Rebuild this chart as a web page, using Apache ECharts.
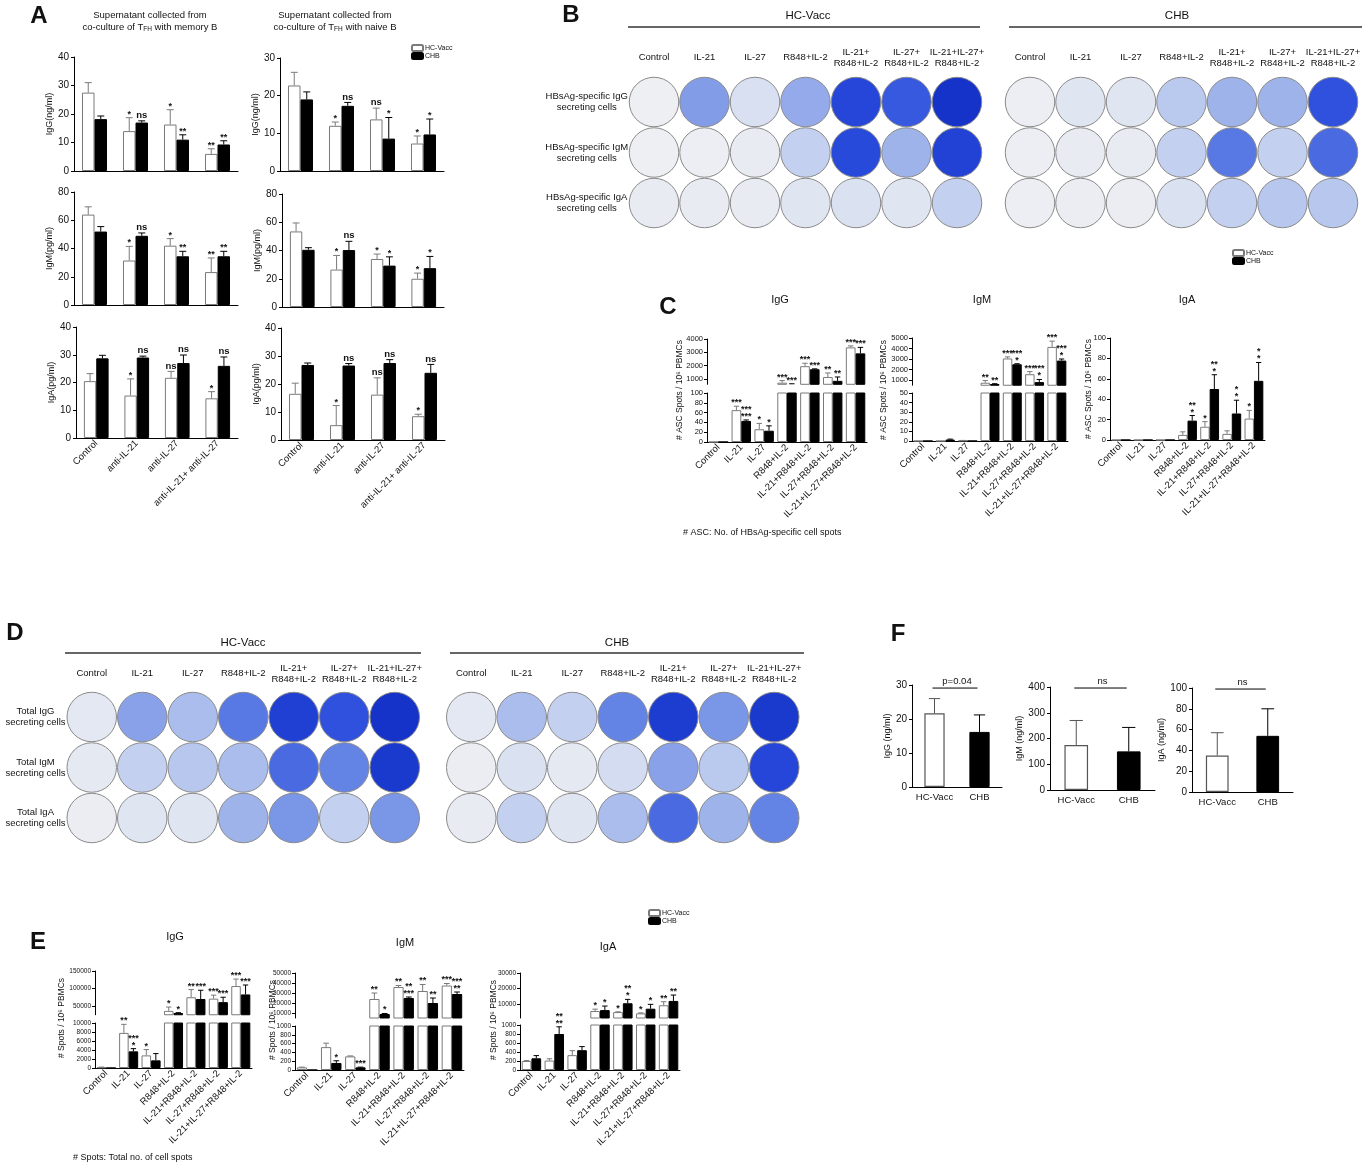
<!DOCTYPE html>
<html>
<head>
<meta charset="utf-8">
<script src="https://cdn.jsdelivr.net/npm/echarts@6/dist/echarts.min.js"></script>
<style>
  html, body { margin: 0; padding: 0; background: #fff; }
  #main { width: 1366px; height: 1167px; }
</style>
</head>
<body>
<div id="main"></div>
<script>
const FONT = 'Arial, "Liberation Sans", Helvetica, sans-serif';

// ---------- Panel A: supernatant Ig, mean and mean+SEM ----------
const aGroups = ['Control', 'anti-IL-21', 'anti-IL-27', 'anti-IL-21+ anti-IL-27'];
const aIgGMemHC = [27.5, 14.0, 16.3, 6.0];
const aIgGMemHCTop = [31.0, 18.7, 21.5, 7.8];
const aIgGMemCHB = [18.2, 17.0, 11.0, 9.3];
const aIgGMemCHBTop = [19.3, 17.6, 12.7, 10.6];
const aIgGNaiHC = [22.7, 12.0, 13.7, 7.3];
const aIgGNaiHCTop = [26.2, 13.0, 16.7, 9.3];
const aIgGNaiCHB = [19.0, 17.3, 8.6, 9.7];
const aIgGNaiCHBTop = [21.0, 18.2, 14.2, 13.8];
const aIgMMemHC = [64.0, 31.5, 42.0, 23.3];
const aIgMMemHCTop = [69.5, 41.5, 47.0, 33.3];
const aIgMMemCHB = [52.0, 49.0, 34.5, 34.5];
const aIgMMemCHBTop = [55.5, 51.0, 38.0, 38.0];
const aIgMNaiHC = [53.5, 26.5, 34.0, 20.0];
const aIgMNaiHCTop = [59.5, 36.5, 37.5, 24.0];
const aIgMNaiCHB = [40.5, 40.3, 29.3, 27.5];
const aIgMNaiCHBTop = [42.0, 46.5, 35.5, 35.8];
const aIgAMemHC = [20.5, 15.3, 21.7, 14.3];
const aIgAMemHCTop = [23.2, 21.3, 24.0, 16.7];
const aIgAMemCHB = [28.7, 29.0, 27.0, 26.0];
const aIgAMemCHBTop = [29.8, 29.5, 29.9, 29.2];
const aIgANaiHC = [16.5, 5.3, 16.2, 8.5];
const aIgANaiHCTop = [20.3, 12.3, 22.2, 9.2];
const aIgANaiCHB = [26.8, 26.6, 27.5, 24.0];
const aIgANaiCHBTop = [27.5, 27.3, 28.7, 27.0];
const aStarMemHC = ['', '*', '*', '**'];
const aStarMemCHB = ['', 'ns', '**', '**'];
const aStarIgGNaiHC = ['', '*', 'ns', '*'];
const aStarIgGNaiCHB = ['', 'ns', '*', '*'];
const aStarIgMNaiHC = ['', '*', '*', '*'];
const aStarIgMNaiCHB = ['', 'ns', '*', '*'];
const aStarIgAHC = ['', '*', 'ns', '*'];
const aStarIgACHB = ['', 'ns', 'ns', 'ns'];

// ---------- Panels B and D: ELISpot wells (0 = blank, 1 = fully stained) ----------
const wellCols = ['Control', 'IL-21', 'IL-27', 'R848+IL-2', 'IL-21+\nR848+IL-2', 'IL-27+\nR848+IL-2', 'IL-21+IL-27+\nR848+IL-2'];
const bRows = ['HBsAg-specific IgG\nsecreting cells', 'HBsAg-specific IgM\nsecreting cells', 'HBsAg-specific IgA\nsecreting cells'];
const dRows = ['Total IgG\nsecreting cells', 'Total IgM\nsecreting cells', 'Total IgA\nsecreting cells'];
const bHC = [
  [0.0, 0.5, 0.2, 0.45, 0.85, 0.75, 1.0],
  [0.0, 0.02, 0.05, 0.28, 0.82, 0.42, 0.88],
  [0.05, 0.05, 0.05, 0.13, 0.18, 0.13, 0.28]
];
const bCHB = [
  [0.02, 0.13, 0.13, 0.32, 0.42, 0.42, 0.78],
  [0.02, 0.05, 0.05, 0.28, 0.62, 0.28, 0.68],
  [0.02, 0.03, 0.03, 0.18, 0.28, 0.33, 0.33]
];
const dHC = [
  [0.1, 0.48, 0.38, 0.62, 0.9, 0.78, 1.0],
  [0.08, 0.28, 0.33, 0.38, 0.68, 0.58, 0.95],
  [0.03, 0.13, 0.13, 0.42, 0.52, 0.28, 0.52]
];
const dCHB = [
  [0.1, 0.38, 0.28, 0.58, 0.92, 0.52, 0.95],
  [0.03, 0.18, 0.08, 0.22, 0.48, 0.32, 0.85],
  [0.05, 0.28, 0.13, 0.38, 0.68, 0.42, 0.58]
];

// ---------- Panels C and E: spots per 10^6 PBMCs ----------
const stimCats = ['Control', 'IL-21', 'IL-27', 'R848+IL-2', 'IL-21+R848+IL-2', 'IL-27+R848+IL-2', 'IL-21+IL-27+R848+IL-2'];
const cIgGHC = [0, 65, 26, 720, 1960, 1150, 3370];
const cIgGHCTop = [0, 73, 38, 880, 2180, 1450, 3480];
const cIgGCHB = [0, 43, 23, 620, 1730, 860, 2920];
const cIgGCHBTop = [0, 45, 33, 640, 1760, 1150, 3370];
const cIgMHC = [0, 0, 0.5, 740, 3050, 1550, 4150];
const cIgMHCTop = [0, 0, 0.6, 950, 3200, 1800, 4700];
const cIgMCHB = [0, 1.5, 0, 620, 2500, 800, 2850];
const cIgMCHBTop = [0, 2, 0, 650, 2550, 1050, 3000];
const cIgAHC = [0, 0, 0, 5, 13, 6, 21];
const cIgAHCTop = [0, 0, 0, 8, 18, 9, 29];
const cIgACHB = [0, 0, 0, 19, 50, 26, 58];
const cIgACHBTop = [0, 0, 0, 24, 64, 39, 76];
const cStarIgGHC = ['', '***', '*', '***', '***', '**', '***'];
const cStarIgGCHB = ['', '***\n***', '*', '***', '***', '**', '***'];
const cStarIgMHC = ['', '', '', '**', '***', '***', '***'];
const cStarIgMCHB = ['', '', '', '**', '***\n*', '***\n*', '***\n*'];
const cStarIgAHC = ['', '', '', '', '*', '', '*'];
const cStarIgACHB = ['', '', '', '**\n*', '**\n*', '*\n*', '*\n*'];

const eIgGHC = [150, 7800, 2800, 36000, 75000, 71000, 107000];
const eIgGHCTop = [200, 9700, 4100, 47000, 97000, 81000, 127000];
const eIgGCHB = [0, 3700, 1700, 30000, 70000, 61000, 83000];
const eIgGCHBTop = [0, 4300, 3200, 31000, 95000, 75000, 110000];
const eIgMHC = [60, 520, 310, 24000, 36000, 32000, 37500];
const eIgMHCTop = [65, 610, 320, 30000, 37500, 38500, 39500];
const eIgMCHB = [0, 160, 60, 9000, 25000, 20000, 29000];
const eIgMCHBTop = [0, 210, 65, 9500, 26000, 25000, 31000];
const eIgAHC = [200, 210, 330, 5500, 4800, 4000, 9200];
const eIgAHCTop = [210, 250, 430, 6700, 5000, 4300, 11500];
const eIgACHB = [260, 800, 440, 6100, 10500, 7000, 12000];
const eIgACHBTop = [320, 960, 520, 8700, 13000, 9800, 15800];
const eStarIgGHC = ['', '**', '*', '*', '**', '***', '***'];
const eStarIgGCHB = ['', '***\n*', '', '*', '***', '***', '***'];
const eStarIgMHC = ['', '', '', '**', '**', '**', '***'];
const eStarIgMCHB = ['', '*', '***', '*', '**\n***', '**', '***\n**'];
const eStarIgAHC = ['', '', '', '*', '*', '*', '**'];
const eStarIgACHB = ['', '**\n**', '', '*', '**\n*', '*', '**'];

// ---------- Panel F: serum Ig ----------
const fGroups = ['HC-Vacc', 'CHB'];
const fIgG = [21.7, 16.2];
const fIgGTop = [26.0, 21.2];
const fIgM = [175, 150];
const fIgMTop = [270, 243];
const fIgA = [35, 54];
const fIgATop = [57, 80];

// ---------------------------------------------------------------
const grids = [], xAxes = [], yAxes = [], series = [], wellSeries = [];
const HC_EDGE = '#7a7a7a';

function errSeries(gi, vals, tops, stars, side, frac, color) {
  return {
    type: 'custom', xAxisIndex: gi, yAxisIndex: gi, clip: false, silent: true, z: 5,
    data: vals.map((v, i) => [i, v, tops[i]]),
    encode: { x: 0, y: [1, 2] },
    renderItem(params, api) {
      const cs = params.coordSys;
      const i = params.dataIndex;
      const band = api.size([1, 0])[0];
      const barW = side === 0 ? band * frac : band * frac / 2;
      const p0 = api.coord([i, api.value(1)]);
      const p1 = api.coord([i, api.value(2)]);
      const x = p0[0] + side * barW / 2;
      const yTop = cs.y, yBot = cs.y + cs.height;
      const cap = Math.max(2.5, barW * 0.28);
      const kids = [];
      if (api.value(2) > api.value(1)) {
        const ya = Math.min(p0[1], yBot), yb = Math.max(p1[1], yTop);
        if (ya > yb) {
          kids.push({ type: 'line', shape: { x1: x, y1: ya, x2: x, y2: yb }, style: { stroke: color, lineWidth: 1 } });
        }
        if (p1[1] >= yTop - 0.5 && p1[1] < yBot) {
          kids.push({ type: 'line', shape: { x1: x - cap, y1: p1[1], x2: x + cap, y2: p1[1] }, style: { stroke: color, lineWidth: 1 } });
        }
      }
      const s = stars ? stars[i] : '';
      // the mark goes into whichever axis segment holds the tip of the error bar
      if (s && p1[1] >= yTop - 0.5 && p1[1] < yBot) {
        const isNs = s === 'ns';
        kids.push({
          type: 'text', x: x, y: p1[1] - (isNs ? 2 : 0),
          style: {
            text: s, fill: '#111', fontFamily: FONT, fontSize: isNs ? 9.5 : 9, fontWeight: 'bold',
            lineHeight: 7, align: 'center', verticalAlign: 'bottom', textAlign: 'center', textVerticalAlign: 'bottom'
          }
        });
      }
      return { type: 'group', children: kids };
    }
  };
}

function addBars(box, cats, axis, d, o) {
  const gi = grids.length;
  grids.push({ left: box[0], top: box[1], width: box[2] - box[0], height: box[3] - box[1], outerBoundsMode: 'none' });
  xAxes.push({
    type: 'category', gridIndex: gi, data: cats,
    axisLine: { show: o.line !== false, lineStyle: { color: '#000', width: 1 } },
    axisTick: { show: false },
    axisLabel: { show: !!o.labels, interval: 0, rotate: 45, fontSize: o.xfs || 9.5, color: '#111', fontFamily: FONT, margin: 4 }
  });
  const ya = {
    type: 'value', gridIndex: gi, min: axis.min, max: axis.max,
    axisLine: { show: true, lineStyle: { color: '#000', width: 1 } },
    axisTick: { show: true, length: 3, lineStyle: { color: '#000' } },
    splitLine: { show: false },
    axisLabel: { fontSize: o.fs || 9, color: '#111', fontFamily: FONT, margin: o.lm || 5, formatter: v => String(v) }
  };
  if (axis.ticks) {
    ya.axisLabel.customValues = axis.ticks;
    ya.axisTick.customValues = axis.ticks;
  } else {
    ya.interval = axis.interval;
  }
  if (o.name) {
    Object.assign(ya, { name: o.name, nameLocation: 'middle', nameGap: o.nameGap, nameTextStyle: { fontSize: 9, fontFamily: FONT, color: '#111' } });
  }
  yAxes.push(ya);
  const gap = o.gap;
  const frac = 1 - parseFloat(gap) / 100;
  series.push({
    type: 'bar', name: 'HC-Vacc', xAxisIndex: gi, yAxisIndex: gi, data: d.hc, barGap: '0%', barCategoryGap: gap,
    clip: true, silent: true, itemStyle: { color: '#fff', borderColor: HC_EDGE, borderWidth: 1 }
  });
  series.push({
    type: 'bar', name: 'CHB', xAxisIndex: gi, yAxisIndex: gi, data: d.chb, barGap: '0%', barCategoryGap: gap,
    clip: true, silent: true, itemStyle: { color: '#000', borderColor: '#000', borderWidth: 1 }
  });
  series.push(errSeries(gi, d.hc, d.hcTop, d.hcStar, -1, frac, HC_EDGE));
  series.push(errSeries(gi, d.chb, d.chbTop, d.chbStar, 1, frac, '#000'));
}

function addSingle(box, vals, tops, axis, name, nameGap, bracketY, bracketLabel) {
  const gi = grids.length;
  grids.push({ left: box[0], top: box[1], width: box[2] - box[0], height: box[3] - box[1], outerBoundsMode: 'none' });
  xAxes.push({
    type: 'category', gridIndex: gi, data: fGroups,
    axisLine: { lineStyle: { color: '#000', width: 1 } }, axisTick: { show: false },
    axisLabel: { interval: 0, fontSize: 9.5, color: '#111', fontFamily: FONT, margin: 5 }
  });
  yAxes.push({
    type: 'value', gridIndex: gi, min: axis.min, max: axis.max, interval: axis.interval,
    axisLine: { show: true, lineStyle: { color: '#000', width: 1 } },
    axisTick: { show: true, length: 3, lineStyle: { color: '#000' } },
    splitLine: { show: false },
    axisLabel: { fontSize: 10, color: '#111', fontFamily: FONT, margin: 5 },
    name: name, nameLocation: 'middle', nameGap: nameGap,
    nameTextStyle: { fontSize: 9, fontFamily: FONT, color: '#111' }
  });
  series.push({
    type: 'bar', xAxisIndex: gi, yAxisIndex: gi, barCategoryGap: '55%', clip: true, silent: true,
    data: [
      { value: vals[0], itemStyle: { color: '#fff', borderColor: '#555', borderWidth: 1.2 } },
      { value: vals[1], itemStyle: { color: '#000', borderColor: '#000', borderWidth: 1 } }
    ]
  });
  series.push(errSeries(gi, [vals[0]], [tops[0]], null, 0, 0.45, '#555'));
  series.push(errSeries(gi, [null, vals[1]], [null, tops[1]], null, 0, 0.45, '#000'));
  series.push({
    type: 'custom', xAxisIndex: gi, yAxisIndex: gi, clip: false, silent: true,
    data: [[0, bracketY]], encode: { x: 0, y: 1 },
    renderItem(params, api) {
      const a = api.coord([0, api.value(1)]);
      const b = api.coord([1, api.value(1)]);
      return {
        type: 'group', children: [
          { type: 'line', shape: { x1: a[0] - 2, y1: a[1], x2: b[0] - 2, y2: b[1] }, style: { stroke: '#000', lineWidth: 1 } },
          {
            type: 'text', x: (a[0] + b[0]) / 2, y: a[1] - 2,
            style: { text: bracketLabel, fill: '#111', fontFamily: FONT, fontSize: 9.5, align: 'center', verticalAlign: 'bottom', textAlign: 'center', textVerticalAlign: 'bottom' }
          }
        ]
      };
    }
  });
}

const WELL = 50.5;
function addWells(left, top, rows, vals, showRows, rowMargin, colMargin) {
  const gi = grids.length;
  grids.push({ left: left, top: top, width: 7 * WELL, height: 3 * WELL, outerBoundsMode: 'none' });
  xAxes.push({
    type: 'category', gridIndex: gi, position: 'top', data: wellCols,
    axisLine: { show: false }, axisTick: { show: false },
    axisLabel: { interval: 0, fontSize: 9.5, color: '#111', fontFamily: FONT, margin: colMargin, lineHeight: 11, verticalAlign: 'middle' }
  });
  yAxes.push({
    type: 'category', gridIndex: gi, inverse: true, data: rows,
    axisLine: { show: false }, axisTick: { show: false }, splitLine: { show: false },
    axisLabel: { show: showRows, interval: 0, align: 'center', margin: rowMargin, fontSize: 9.5, color: '#111', fontFamily: FONT, lineHeight: 11 }
  });
  const data = [];
  vals.forEach((row, r) => row.forEach((v, c) => data.push([c, r, v])));
  wellSeries.push(series.length);
  series.push({
    type: 'scatter', xAxisIndex: gi, yAxisIndex: gi, symbol: 'circle', symbolSize: WELL - 1, silent: true,
    data: data, itemStyle: { borderColor: '#8a8a8a', borderWidth: 1, opacity: 1 }
  });
}

// ----- Panel A -----
const aGap = '39%';
addBars([74, 57, 238, 171], aGroups, { min: 0, max: 40, interval: 10 },
  { hc: aIgGMemHC, hcTop: aIgGMemHCTop, chb: aIgGMemCHB, chbTop: aIgGMemCHBTop, hcStar: aStarMemHC, chbStar: aStarMemCHB },
  { gap: aGap, fs: 10, name: 'IgG(ng/ml)', nameGap: 15 });
addBars([280, 58, 444, 171], aGroups, { min: 0, max: 30, interval: 10 },
  { hc: aIgGNaiHC, hcTop: aIgGNaiHCTop, chb: aIgGNaiCHB, chbTop: aIgGNaiCHBTop, hcStar: aStarIgGNaiHC, chbStar: aStarIgGNaiCHB },
  { gap: aGap, fs: 10, name: 'IgG(ng/ml)', nameGap: 15 });
addBars([74, 192, 238, 305], aGroups, { min: 0, max: 80, interval: 20 },
  { hc: aIgMMemHC, hcTop: aIgMMemHCTop, chb: aIgMMemCHB, chbTop: aIgMMemCHBTop, hcStar: aStarMemHC, chbStar: aStarMemCHB },
  { gap: aGap, fs: 10, name: 'IgM(pg/ml)', nameGap: 15 });
addBars([282, 194, 444, 307], aGroups, { min: 0, max: 80, interval: 20 },
  { hc: aIgMNaiHC, hcTop: aIgMNaiHCTop, chb: aIgMNaiCHB, chbTop: aIgMNaiCHBTop, hcStar: aStarIgMNaiHC, chbStar: aStarIgMNaiCHB },
  { gap: aGap, fs: 10, name: 'IgM(pg/ml)', nameGap: 15 });
addBars([76, 327, 238, 438], aGroups, { min: 0, max: 40, interval: 10 },
  { hc: aIgAMemHC, hcTop: aIgAMemHCTop, chb: aIgAMemCHB, chbTop: aIgAMemCHBTop, hcStar: aStarIgAHC, chbStar: aStarIgACHB },
  { gap: aGap, fs: 10, labels: true, xfs: 9.5, name: 'IgA(pg/ml)', nameGap: 15 });
addBars([281, 328, 445, 440], aGroups, { min: 0, max: 40, interval: 10 },
  { hc: aIgANaiHC, hcTop: aIgANaiHCTop, chb: aIgANaiCHB, chbTop: aIgANaiCHBTop, hcStar: aStarIgAHC, chbStar: aStarIgACHB },
  { gap: aGap, fs: 10, labels: true, xfs: 9.5, name: 'IgA(pg/ml)', nameGap: 15 });

// ----- Panel B / D wells -----
addWells(628.75, 76.75, bRows, bHC, true, 42, 19);
addWells(1004.75, 76.75, bRows, bCHB, false, 0, 19);
addWells(66.5, 691.75, dRows, dHC, true, 31, 18);
addWells(446, 691.75, dRows, dCHB, false, 0, 18);

// ----- Panel C (broken axes for IgG / IgM) -----
const cGap = '15%';
const cIgG = { hc: cIgGHC, hcTop: cIgGHCTop, chb: cIgGCHB, chbTop: cIgGCHBTop, hcStar: cStarIgGHC, chbStar: cStarIgGCHB };
addBars([707, 339, 867, 384.3], stimCats, { min: 600, max: 4000, ticks: [1000, 2000, 3000, 4000] }, cIgG, { gap: cGap, fs: 7.5, lm: 4, line: false });
addBars([707, 393, 867, 442], stimCats, { min: 0, max: 100, interval: 20 }, cIgG, { gap: cGap, fs: 7.5, lm: 4, labels: true });
const cIgM = { hc: cIgMHC, hcTop: cIgMHCTop, chb: cIgMCHB, chbTop: cIgMCHBTop, hcStar: cStarIgMHC, chbStar: cStarIgMCHB };
addBars([912, 338, 1068, 385.25], stimCats, { min: 500, max: 5000, ticks: [1000, 2000, 3000, 4000, 5000] }, cIgM, { gap: cGap, fs: 7.5, lm: 4, line: false });
addBars([912, 393, 1068, 441], stimCats, { min: 0, max: 50, interval: 10 }, cIgM, { gap: cGap, fs: 7.5, lm: 4, labels: true });
addBars([1110, 338, 1265, 440], stimCats, { min: 0, max: 100, interval: 20 },
  { hc: cIgAHC, hcTop: cIgAHCTop, chb: cIgACHB, chbTop: cIgACHBTop, hcStar: cStarIgAHC, chbStar: cStarIgACHB },
  { gap: cGap, fs: 7.5, lm: 4, labels: true });

// ----- Panel E (broken axes) -----
const eIgG = { hc: eIgGHC, hcTop: eIgGHCTop, chb: eIgGCHB, chbTop: eIgGCHBTop, hcStar: eStarIgGHC, chbStar: eStarIgGCHB };
addBars([95, 971, 252, 1014.75], stimCats, { min: 25000, max: 150000, ticks: [50000, 100000, 150000] }, eIgG, { gap: cGap, fs: 6.5, lm: 4, line: false });
addBars([95, 1023, 252, 1068], stimCats, { min: 0, max: 10000, interval: 2000 }, eIgG, { gap: cGap, fs: 6.5, lm: 4, labels: true });
const eIgM = { hc: eIgMHC, hcTop: eIgMHCTop, chb: eIgMCHB, chbTop: eIgMCHBTop, hcStar: eStarIgMHC, chbStar: eStarIgMCHB };
addBars([295, 973, 464, 1018], stimCats, { min: 5000, max: 50000, ticks: [10000, 20000, 30000, 40000, 50000] }, eIgM, { gap: cGap, fs: 6.5, lm: 4, line: false });
addBars([295, 1026, 464, 1070], stimCats, { min: 0, max: 1000, interval: 200 }, eIgM, { gap: cGap, fs: 6.5, lm: 4, labels: true });
const eIgA = { hc: eIgAHC, hcTop: eIgAHCTop, chb: eIgACHB, chbTop: eIgACHBTop, hcStar: eStarIgAHC, chbStar: eStarIgACHB };
addBars([520, 973, 680, 1018], stimCats, { min: 1000, max: 30000, ticks: [10000, 20000, 30000] }, eIgA, { gap: cGap, fs: 6.5, lm: 4, line: false });
addBars([520, 1025, 680, 1070], stimCats, { min: 0, max: 1000, interval: 200 }, eIgA, { gap: cGap, fs: 6.5, lm: 4, labels: true });

// ----- Panel F -----
addSingle([912, 685, 1002, 787], fIgG, fIgGTop, { min: 0, max: 30, interval: 10 }, 'IgG (ng/ml)', 17, 29.1, 'p=0.04');
addSingle([1050, 687, 1155, 790], fIgM, fIgMTop, { min: 0, max: 400, interval: 100 }, 'IgM (ng/ml)', 22, 396, 'ns');
addSingle([1192, 688, 1293, 792], fIgA, fIgATop, { min: 0, max: 100, interval: 20 }, 'IgA (ng/ml)', 19, 99, 'ns');

// ----- free text -----
function txt(x, y, text, o) {
  o = o || {};
  const align = o.align || 'center', va = o.va || 'middle';
  return {
    type: 'text', x: x, y: y, rotation: o.rot || 0, silent: true,
    style: {
      text: text, fill: '#111', fontSize: o.fs || 10, fontWeight: o.fw || 'normal', fontFamily: FONT,
      align: align, verticalAlign: va, textAlign: align, textVerticalAlign: va, rich: o.rich
    }
  };
}
function hline(x1, x2, y) {
  return { type: 'line', silent: true, shape: { x1: x1, y1: y, x2: x2, y2: y }, style: { stroke: '#333', lineWidth: 1.5 } };
}
const subRich = { s: { fontSize: 6.5, fontFamily: FONT, fill: '#111', verticalAlign: 'bottom', padding: [4, 0, 0, 0] } };
const ROT = Math.PI / 2;
const spotsName = '# ASC Spots / 10\u2076 PBMCs';
const totalName = '# Spots / 10\u2076 PBMCs';
const texts = [
  txt(39, 16, 'A', { fs: 24, fw: 'bold' }),
  txt(571, 15, 'B', { fs: 24, fw: 'bold' }),
  txt(668, 307, 'C', { fs: 24, fw: 'bold' }),
  txt(15, 633, 'D', { fs: 24, fw: 'bold' }),
  txt(38, 942, 'E', { fs: 24, fw: 'bold' }),
  txt(898, 634, 'F', { fs: 24, fw: 'bold' }),
  txt(150, 15, 'Supernatant collected from', { fs: 9.5 }),
  txt(150, 27, 'co-culture of T{s|FH} with memory B', { fs: 9.5, rich: subRich }),
  txt(335, 15, 'Supernatant collected from', { fs: 9.5 }),
  txt(335, 27, 'co-culture of T{s|FH} with naive B', { fs: 9.5, rich: subRich }),
  txt(808, 16, 'HC-Vacc', { fs: 11.5 }),
  txt(1177, 16, 'CHB', { fs: 11.5 }),
  txt(243, 643, 'HC-Vacc', { fs: 11.5 }),
  txt(617, 643, 'CHB', { fs: 11.5 }),
  txt(780, 300, 'IgG', { fs: 11 }),
  txt(982, 300, 'IgM', { fs: 11 }),
  txt(1187, 300, 'IgA', { fs: 11 }),
  txt(175, 937, 'IgG', { fs: 11 }),
  txt(405, 943, 'IgM', { fs: 11 }),
  txt(608, 947, 'IgA', { fs: 11 }),
  txt(680, 390, spotsName, { fs: 8.5, rot: ROT }),
  txt(884, 390, spotsName, { fs: 8.5, rot: ROT }),
  txt(1089, 389, spotsName, { fs: 8.5, rot: ROT }),
  txt(62, 1018, totalName, { fs: 8.5, rot: ROT }),
  txt(273, 1020, totalName, { fs: 8.5, rot: ROT }),
  txt(494, 1020, totalName, { fs: 8.5, rot: ROT }),
  txt(683, 533, '# ASC: No. of HBsAg-specific cell spots', { fs: 9, align: 'left' }),
  txt(73, 1158, '# Spots: Total no. of cell spots', { fs: 9, align: 'left' }),
  hline(628, 980, 27),
  hline(1009, 1362, 27),
  hline(65, 421, 653),
  hline(450, 804, 653)
];

const legendBase = {
  orient: 'vertical', itemWidth: 11, itemHeight: 6, itemGap: 0, padding: 0, selectedMode: false,
  data: ['HC-Vacc', 'CHB'],
  textStyle: { fontSize: 7, lineHeight: 7, fontFamily: FONT, color: '#111', padding: [0, 0, 0, -3] }
};

const chart = echarts.init(document.getElementById('main'));
chart.setOption({
  backgroundColor: '#fff',
  animation: false,
  textStyle: { fontFamily: FONT },
  grid: grids,
  xAxis: xAxes,
  yAxis: yAxes,
  legend: [
    Object.assign({}, legendBase, { left: 411, top: 44 }),
    Object.assign({}, legendBase, { left: 1232, top: 249 }),
    Object.assign({}, legendBase, { left: 648, top: 909 })
  ],
  visualMap: {
    type: 'continuous', show: false, seriesIndex: wellSeries, dimension: 2, min: 0, max: 1,
    inRange: { color: ['#eeeff3', '#d8e0f1', '#a6b9ec', '#5d7ee4', '#2a4cdd', '#1533c8'] }
  },
  graphic: { elements: texts },
  series: series
});
</script>
</body>
</html>
